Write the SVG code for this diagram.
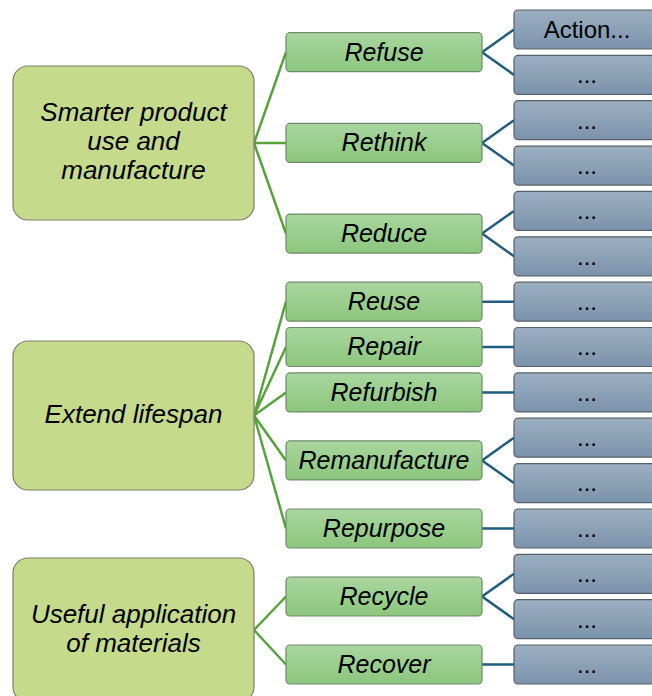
<svg xmlns="http://www.w3.org/2000/svg" width="652" height="696" viewBox="0 0 652 696">
<defs>
<linearGradient id="gGreen" x1="0" y1="0" x2="0" y2="1">
<stop offset="0" stop-color="#a9d69f"/>
<stop offset="1" stop-color="#8cc67c"/>
</linearGradient>
<linearGradient id="gBlue" x1="0" y1="0" x2="0" y2="1">
<stop offset="0" stop-color="#9cafc1"/>
<stop offset="1" stop-color="#7a93ab"/>
</linearGradient>
</defs>
<style>
.l1{fill:#c6da8b;stroke:#7d7d6e;stroke-width:1.2}
.l2{fill:url(#gGreen);stroke:#6f8a6a;stroke-width:1.2}
.l3{fill:url(#gBlue);stroke:#56606a;stroke-width:1.2}
.t{font-family:"Liberation Sans",Arial,sans-serif;font-size:24px;fill:#000;text-anchor:middle}
.i{font-style:italic;font-size:25px}
.big{font-size:26px}
.cg{stroke:#55a33a;stroke-width:2.5;fill:none}
.cb{stroke:#1f5c80;stroke-width:2.5;fill:none}
</style>
<g id="connectors">
<path class="cg" d="M254,143 L286,52.2 M254,143 L286,142.9 M254,143 L286,233.6"/>
<path class="cg" d="M254,415.5 L286,301.7 M254,415.5 L286,347 M254,415.5 L286,392.4 M254,415.5 L286,460.4 M254,415.5 L286,528.5"/>
<path class="cg" d="M254,630 L286,596.5 M254,630 L286,664.5"/>
<path class="cb" d="M482,52.2 L514,29.5 M482,52.2 L514,74.9 M482,142.9 L514,120.2 M482,142.9 L514,165.6 M482,233.6 L514,210.9 M482,233.6 L514,256.3"/>
<path class="cb" d="M482,301.7 L514,301.7 M482,347 L514,347 M482,392.4 L514,392.4 M482,460.4 L514,437.7 M482,460.4 L514,483.1 M482,528.5 L514,528.5"/>
<path class="cb" d="M482,596.5 L514,573.8 M482,596.5 L514,619.2 M482,664.5 L514,664.5"/>
</g>
<g id="n-smarter"><rect class="l1" x="13" y="66" width="241" height="154" rx="15"/>
<text class="t i big" x="133.5" y="121">Smarter product</text><text class="t i big" x="133.5" y="150">use and</text><text class="t i big" x="133.5" y="179">manufacture</text></g>
<g id="n-extend"><rect class="l1" x="13" y="341" width="241" height="149" rx="15"/>
<text class="t i big" x="133.5" y="423">Extend lifespan</text></g>
<g id="n-useful"><rect class="l1" x="13" y="558" width="241" height="144" rx="15"/>
<text class="t i big" x="133.5" y="623">Useful application</text><text class="t i big" x="133.5" y="652">of materials</text></g>

<g id="n-refuse"><rect class="l2" x="286" y="32.7" width="196" height="39" rx="4"/><text class="t i" x="384" y="60.5">Refuse</text></g>
<g id="n-rethink"><rect class="l2" x="286" y="123.4" width="196" height="39" rx="4"/><text class="t i" x="384" y="151.2">Rethink</text></g>
<g id="n-reduce"><rect class="l2" x="286" y="214.1" width="196" height="39" rx="4"/><text class="t i" x="384" y="241.9">Reduce</text></g>
<g id="n-reuse"><rect class="l2" x="286" y="282.2" width="196" height="39" rx="4"/><text class="t i" x="384" y="310">Reuse</text></g>
<g id="n-repair"><rect class="l2" x="286" y="327.5" width="196" height="39" rx="4"/><text class="t i" x="384" y="355.3">Repair</text></g>
<g id="n-refurbish"><rect class="l2" x="286" y="372.9" width="196" height="39" rx="4"/><text class="t i" x="384" y="400.7">Refurbish</text></g>
<g id="n-remanufacture"><rect class="l2" x="286" y="440.9" width="196" height="39" rx="4"/><text class="t i" x="384" y="468.7">Remanufacture</text></g>
<g id="n-repurpose"><rect class="l2" x="286" y="509" width="196" height="39" rx="4"/><text class="t i" x="384" y="536.8">Repurpose</text></g>
<g id="n-recycle"><rect class="l2" x="286" y="577" width="196" height="39" rx="4"/><text class="t i" x="384" y="604.8">Recycle</text></g>
<g id="n-recover"><rect class="l2" x="286" y="645" width="196" height="39" rx="4"/><text class="t i" x="384" y="672.8">Recover</text></g>

<g id="a0"><rect class="l3" x="514" y="10" width="148" height="39" rx="4"/><text class="t" x="587" y="37.8">Action...</text></g>
<g id="a1"><rect class="l3" x="514" y="55.4" width="148" height="39" rx="4"/><text class="t" x="587" y="83.2">...</text></g>
<g id="a2"><rect class="l3" x="514" y="100.7" width="148" height="39" rx="4"/><text class="t" x="587" y="128.5">...</text></g>
<g id="a3"><rect class="l3" x="514" y="146.1" width="148" height="39" rx="4"/><text class="t" x="587" y="173.9">...</text></g>
<g id="a4"><rect class="l3" x="514" y="191.4" width="148" height="39" rx="4"/><text class="t" x="587" y="219.2">...</text></g>
<g id="a5"><rect class="l3" x="514" y="236.8" width="148" height="39" rx="4"/><text class="t" x="587" y="264.6">...</text></g>
<g id="a6"><rect class="l3" x="514" y="282.2" width="148" height="39" rx="4"/><text class="t" x="587" y="310">...</text></g>
<g id="a7"><rect class="l3" x="514" y="327.5" width="148" height="39" rx="4"/><text class="t" x="587" y="355.3">...</text></g>
<g id="a8"><rect class="l3" x="514" y="372.9" width="148" height="39" rx="4"/><text class="t" x="587" y="400.7">...</text></g>
<g id="a9"><rect class="l3" x="514" y="418.2" width="148" height="39" rx="4"/><text class="t" x="587" y="446">...</text></g>
<g id="a10"><rect class="l3" x="514" y="463.6" width="148" height="39" rx="4"/><text class="t" x="587" y="491.4">...</text></g>
<g id="a11"><rect class="l3" x="514" y="509" width="148" height="39" rx="4"/><text class="t" x="587" y="536.8">...</text></g>
<g id="a12"><rect class="l3" x="514" y="554.3" width="148" height="39" rx="4"/><text class="t" x="587" y="582.1">...</text></g>
<g id="a13"><rect class="l3" x="514" y="599.7" width="148" height="39" rx="4"/><text class="t" x="587" y="627.5">...</text></g>
<g id="a14"><rect class="l3" x="514" y="645" width="148" height="39" rx="4"/><text class="t" x="587" y="672.8">...</text></g>
</svg>
